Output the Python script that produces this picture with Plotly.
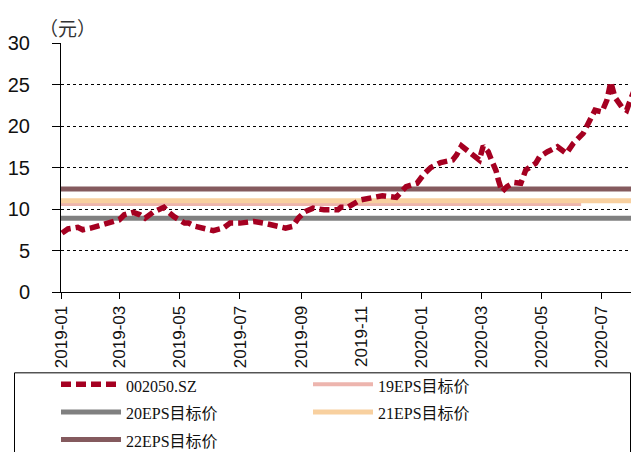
import plotly.graph_objects as go

# ---- data ----
price_dates = [
    "2019-01-02", "2019-01-08", "2019-01-18", "2019-01-23", "2019-01-31", "2019-02-11",
    "2019-02-20", "2019-03-01", "2019-03-06", "2019-03-15", "2019-03-22", "2019-03-27",
    "2019-04-04", "2019-04-10", "2019-04-15", "2019-04-19", "2019-04-25", "2019-05-06",
    "2019-05-10", "2019-05-17", "2019-05-29", "2019-06-04", "2019-06-14", "2019-06-21",
    "2019-07-01", "2019-07-11", "2019-07-15", "2019-07-25", "2019-08-08", "2019-08-16",
    "2019-08-23", "2019-08-29", "2019-09-05", "2019-09-13", "2019-09-24", "2019-10-08",
    "2019-10-11", "2019-10-18", "2019-10-31", "2019-11-12", "2019-11-22", "2019-12-06",
    "2019-12-16", "2019-12-27", "2020-01-03", "2020-01-10", "2020-01-20", "2020-02-01",
    "2020-02-05", "2020-02-10", "2020-02-17", "2020-02-25", "2020-02-28", "2020-03-03",
    "2020-03-08", "2020-03-11", "2020-03-16", "2020-03-18", "2020-03-22", "2020-03-27",
    "2020-04-03", "2020-04-10", "2020-04-15", "2020-04-25", "2020-04-29", "2020-05-07",
    "2020-05-17", "2020-05-26", "2020-06-02", "2020-06-12", "2020-06-19", "2020-06-24",
    "2020-07-01", "2020-07-06", "2020-07-10", "2020-07-14", "2020-07-21", "2020-07-26",
    "2020-07-29", "2020-08-02", "2020-08-06",
]
price_values = [
    7.1, 7.6, 7.8, 7.5, 7.7, 8.1,
    8.4, 8.7, 9.3, 9.6, 9.3, 8.9,
    9.6, 9.9, 10.2, 9.7, 9.1, 8.3,
    8.3, 7.9, 7.6, 7.4, 7.7, 8.3,
    8.3, 8.4, 8.5, 8.3, 7.9, 7.7,
    7.9, 8.9, 9.7, 10.1, 9.9, 9.9,
    10.2, 10.2, 11.1, 11.4, 11.6, 11.4,
    12.7, 13.1, 14.2, 15.0, 15.6, 15.9,
    16.5, 17.6, 16.9, 16.1, 15.9, 17.6,
    16.9, 16.0, 14.6, 13.6, 12.1, 12.7,
    13.2, 13.1, 14.7, 15.5, 16.3, 16.9,
    17.5, 16.7, 17.9, 19.1, 20.7, 21.9,
    21.7, 23.1, 25.3, 23.5, 22.3, 21.9,
    22.9, 24.1, 23.1,
]

target_names = ["19EPS目标价", "20EPS目标价", "21EPS目标价", "22EPS目标价"]
target_values = [10.6, 8.9, 11.0, 12.4]
target_starts = ["2019-01-01", "2019-01-01", "2019-01-01", "2019-01-01"]
target_ends = ["2020-06-10", "2020-08-08", "2020-08-08", "2020-08-08"]
target_colors = ["#EDB5AE", "#808080", "#F8D09F", "#845A5E"]

y_ticks = [0, 5, 10, 15, 20, 25, 30]
x_ticks = ["2019-01-01", "2019-03-01", "2019-05-01", "2019-07-01", "2019-09-01",
           "2019-11-01", "2020-01-01", "2020-03-01", "2020-05-01", "2020-07-01"]
x_tick_labels = ["2019-01", "2019-03", "2019-05", "2019-07", "2019-09",
                 "2019-11", "2020-01", "2020-03", "2020-05", "2020-07"]

# ---- figure (page places the figure 8px in from top-left) ----
OFF = 8
W, H = 639 - OFF, 452 - OFF
ML, MR, MT = 61 - OFF, 0, 43 - OFF
MB = H - (292.5 - OFF)
pw, ph = W - ML - MR, H - MT - MB

def px_x(p):  # screen px -> paper
    return (p - OFF - ML) / pw

def px_y(p):
    return (H - MB - (p - OFF)) / ph

fig = go.Figure()

ranks = {"19EPS目标价": 2, "20EPS目标价": 3, "21EPS目标价": 4, "22EPS目标价": 5}
widths = {"19EPS目标价": 4, "20EPS目标价": 5, "21EPS目标价": 5, "22EPS目标价": 5}
order = ["20EPS目标价", "19EPS目标价", "21EPS目标价", "22EPS目标价"]
for nm in order:
    i = target_names.index(nm)
    fig.add_trace(go.Scatter(
        x=[target_starts[i], target_ends[i]],
        y=[target_values[i], target_values[i]],
        mode="lines",
        name=f"<span style='font-size:16px'>{nm}</span>",
        line=dict(color=target_colors[i], width=widths[nm]),
        legendrank=ranks[nm],
        hoverinfo="skip",
    ))

fig.add_trace(go.Scatter(
    x=price_dates, y=price_values, mode="lines",
    name="<span style='font-size:16px'>002050.SZ</span>",
    line=dict(color="#A50021", width=5.5, dash="10px,5px"),
    legendrank=1,
))

fig.update_layout(
    width=W, height=H,
    margin=dict(l=ML, r=MR, t=MT, b=MB, autoexpand=False),
    plot_bgcolor="white", paper_bgcolor="white",
    showlegend=True,
    legend=dict(
        orientation="h",
        x=px_x(56), xanchor="left",
        y=px_y(366), yanchor="top",
        font=dict(family="Liberation Serif, Noto Sans CJK SC, serif", size=19, color="#111"),
        itemwidth=60,
        entrywidth=177,
        bgcolor="rgba(0,0,0,0)",
        borderwidth=0,
        traceorder="normal",
    ),
    xaxis=dict(
        type="date",
        range=["2019-01-01", "2020-08-07 12:00"],
        tickvals=x_ticks, ticktext=x_tick_labels,
        tickangle=-90,
        tickfont=dict(family="Liberation Sans, Arial", size=17, color="#111"),
        showline=True, linecolor="black", linewidth=1,
        ticks="outside", ticklen=6, tickcolor="black",
        showgrid=False, zeroline=False,
    ),
    yaxis=dict(
        range=[0, 30],
        tickvals=y_ticks,
        tickfont=dict(family="Liberation Sans, Arial", size=20, color="#111"),
        showline=True, linecolor="black", linewidth=1,
        ticks="outside", ticklen=8, tickcolor="black",
        ticklabelstandoff=18,
        showgrid=True, gridcolor="black", gridwidth=1, griddash="dot",
        zeroline=False,
    ),
    annotations=[dict(
        text="（元）", xref="paper", yref="paper",
        x=px_x(67), y=px_y(27), xanchor="center", yanchor="middle",
        showarrow=False,
        font=dict(family="Noto Sans CJK SC", size=19, color="#333"),
    )],
    shapes=[dict(
        type="rect", xref="paper", yref="paper",
        x0=px_x(14.5), x1=px_x(630.5), y0=px_y(373.5), y1=px_y(470),
        line=dict(color="black", width=1), fillcolor="rgba(0,0,0,0)",
        layer="above",
    )],
)

fig.write_html("out.html")
